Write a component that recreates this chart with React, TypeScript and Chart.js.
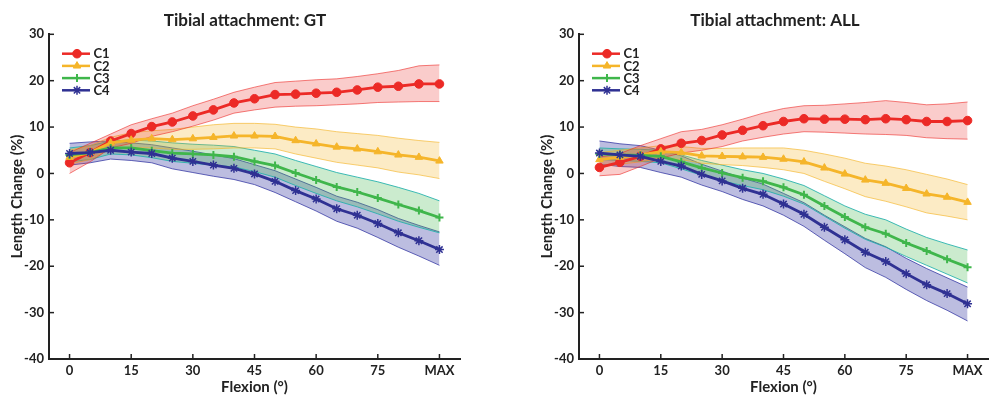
import React, { useEffect, useRef } from 'react';
import { Chart, registerables } from 'chart.js';
import { drawPoint } from 'chart.js/helpers';

Chart.register(...registerables);

// ---------- data ----------
const flexion = [0, 5, 10, 15, 20, 25, 30, 35, 40, 45, 50, 55, 60, 65, 70, 75, 80, 85, 90];
const xTickValues = [0, 15, 30, 45, 60, 75, 90];
const xTickLabels = ['0', '15', '30', '45', '60', '75', 'MAX'];
const yTickValues = [-40, -30, -20, -10, 0, 10, 20, 30];
const seriesNames = ['C1', 'C2', 'C3', 'C4'];
const panelTitles = ['Tibial attachment: GT', 'Tibial attachment: ALL'];

// Panel GT
const gtC1 = [2.3, 4.5, 7.0, 8.6, 10.1, 11.1, 12.4, 13.7, 15.2, 16.1, 17.0, 17.1, 17.3, 17.5, 18.0, 18.6, 18.8, 19.3, 19.3];
const gtC1Upper = [4.5, 6.5, 8.5, 10.5, 11.8, 13.0, 14.6, 16.0, 17.5, 18.6, 19.6, 19.9, 20.2, 20.4, 20.9, 21.5, 22.2, 23.2, 23.4];
const gtC1Lower = [0.0, 2.5, 5.5, 6.5, 8.0, 9.0, 10.2, 11.5, 13.0, 13.7, 14.3, 14.5, 14.6, 14.8, 15.0, 15.3, 15.4, 15.5, 15.5];
const gtC2 = [3.5, 4.5, 6.6, 7.2, 7.5, 7.3, 7.5, 7.8, 8.1, 8.1, 8.0, 7.1, 6.4, 5.7, 5.3, 4.7, 4.0, 3.5, 2.7];
const gtC2Upper = [5.0, 6.0, 7.8, 8.8, 9.2, 9.5, 10.0, 10.5, 10.8, 10.8, 10.6, 10.0, 9.6, 9.0, 8.6, 8.2, 7.6, 7.1, 6.7];
const gtC2Lower = [2.0, 3.0, 5.4, 5.6, 5.5, 5.2, 5.2, 5.3, 5.5, 5.5, 5.3, 4.2, 3.3, 2.4, 1.8, 1.2, 0.3, -0.3, -1.1];
const gtC3 = [4.0, 4.5, 5.5, 5.5, 4.9, 4.4, 4.2, 4.0, 3.6, 2.6, 1.7, 0.1, -1.4, -2.9, -4.0, -5.3, -6.7, -8.0, -9.5];
const gtC3Upper = [5.5, 6.0, 7.0, 7.2, 7.0, 6.6, 6.3, 6.1, 5.8, 5.0, 4.2, 2.8, 1.5, 0.2, -0.8, -1.8, -3.0, -4.3, -5.9];
const gtC3Lower = [2.5, 3.0, 4.2, 4.0, 3.4, 2.6, 2.2, 1.8, 1.4, 0.4, -0.8, -2.6, -4.3, -5.9, -7.2, -8.7, -10.3, -11.6, -12.8];
const gtC4 = [4.3, 4.5, 5.0, 4.6, 4.3, 3.3, 2.6, 1.8, 1.1, -0.1, -1.7, -3.7, -5.5, -7.6, -9.0, -10.8, -12.8, -14.5, -16.4];
const gtC4Upper = [6.5, 6.8, 7.0, 6.6, 6.2, 5.5, 4.8, 4.0, 3.2, 1.9, 0.6, -1.2, -3.0, -4.9, -6.2, -7.8, -9.7, -11.2, -12.6];
const gtC4Lower = [1.8, 2.3, 3.1, 2.8, 2.3, 1.0, 0.2, -0.6, -1.3, -2.4, -4.1, -6.1, -8.1, -10.3, -11.8, -13.8, -15.9, -17.8, -19.8];

// Panel ALL
const allC1 = [1.3, 2.4, 3.7, 5.3, 6.5, 7.1, 8.3, 9.3, 10.3, 11.2, 11.8, 11.7, 11.7, 11.6, 11.8, 11.6, 11.2, 11.2, 11.4];
const allC1Upper = [3.5, 4.3, 6.0, 7.5, 9.0, 9.5, 10.5, 11.7, 13.0, 14.0, 14.6, 14.7, 15.0, 15.3, 15.7, 15.3, 14.8, 15.0, 15.4];
const allC1Lower = [-0.5, -0.2, 1.5, 3.3, 4.4, 5.0, 5.8, 7.0, 7.8, 8.5, 9.0, 8.9, 8.7, 8.5, 8.4, 8.2, 7.7, 7.5, 7.4];
const allC2 = [3.0, 3.5, 4.0, 4.7, 4.5, 3.8, 3.7, 3.6, 3.5, 3.1, 2.5, 1.2, -0.1, -1.4, -2.1, -3.2, -4.4, -5.1, -6.2];
const allC2Upper = [4.5, 5.0, 5.5, 6.0, 5.8, 5.4, 5.4, 5.5, 5.5, 5.5, 5.0, 4.2, 3.3, 2.2, 1.6, 0.8, -0.2, -1.2, -2.4];
const allC2Lower = [1.5, 2.0, 2.5, 3.3, 3.0, 2.2, 1.9, 1.7, 1.3, 0.8, 0.0, -1.7, -3.3, -5.0, -6.0, -7.2, -8.5, -9.2, -10.0];
const allC3 = [4.2, 4.0, 3.9, 3.7, 2.5, 1.2, 0.1, -0.9, -1.7, -3.0, -4.6, -7.0, -9.4, -11.6, -13.0, -15.0, -16.7, -18.5, -20.2];
const allC3Upper = [5.5, 5.3, 5.2, 5.0, 4.0, 2.8, 1.8, 0.8, 0.0, -1.2, -2.6, -4.8, -7.0, -8.8, -10.0, -12.0, -13.8, -15.2, -16.5];
const allC3Lower = [3.0, 2.8, 2.6, 2.3, 1.0, -0.4, -1.6, -2.6, -3.5, -4.9, -6.6, -9.2, -11.8, -14.2, -15.9, -17.9, -19.8, -21.7, -23.6];
const allC4 = [4.4, 4.0, 3.7, 2.6, 1.6, -0.2, -1.6, -3.2, -4.5, -6.6, -8.8, -11.6, -14.3, -17.0, -19.0, -21.6, -24.0, -25.9, -28.1];
const allC4Upper = [7.0, 6.4, 6.0, 5.0, 3.8, 2.0, 0.5, -1.0, -2.3, -4.3, -6.3, -9.0, -11.5, -14.0, -15.8, -18.3, -20.5, -22.5, -24.5];
const allC4Lower = [2.0, 1.5, 1.3, 0.2, -0.8, -2.5, -3.9, -5.6, -7.0, -9.0, -11.4, -14.4, -17.3, -20.3, -22.4, -25.0, -27.4, -29.5, -31.8];

// ---------- styles ----------
const lineColors = ['#ec2a26', '#f5b52a', '#3fb64b', '#2f3193'];
const bandFills = ['rgba(236,42,38,0.24)', 'rgba(245,181,42,0.27)', 'rgba(63,182,75,0.27)', 'rgba(47,49,160,0.32)'];
const bandEdges = ['rgba(236,42,38,0.6)', 'rgba(245,181,42,0.65)', 'rgba(30,175,170,0.85)', 'rgba(47,49,160,0.75)'];
const markerStyles = ['circle', 'triangle', 'cross', 'star'];
const markerRadius = [4.3, 4.3, 4, 4.5];
const markerBorder = [1, 1, 2, 1.5];
const FONT = 'Lato, "Open Sans", sans-serif';
const INK = '#222';

type PanelData = { title: string; means: number[][]; uppers: number[][]; lowers: number[][] };

const panels: PanelData[] = [
  { title: panelTitles[0], means: [gtC1, gtC2, gtC3, gtC4], uppers: [gtC1Upper, gtC2Upper, gtC3Upper, gtC4Upper], lowers: [gtC1Lower, gtC2Lower, gtC3Lower, gtC4Lower] },
  { title: panelTitles[1], means: [allC1, allC2, allC3, allC4], uppers: [allC1Upper, allC2Upper, allC3Upper, allC4Upper], lowers: [allC1Lower, allC2Lower, allC3Lower, allC4Lower] },
];

const pts = (vals: number[]) => vals.map((v, i) => ({ x: flexion[i], y: v }));

const ticksInward = {
  id: 'ticksInward',
  afterDraw(chart: any) {
    const { ctx, chartArea, scales } = chart;
    ctx.save();
    ctx.strokeStyle = INK;
    ctx.lineWidth = 1.5;
    xTickValues.forEach((v) => {
      const px = scales.x.getPixelForValue(v);
      ctx.beginPath();
      ctx.moveTo(px, chartArea.bottom);
      ctx.lineTo(px, chartArea.bottom - 5);
      ctx.stroke();
    });
    yTickValues.forEach((v) => {
      const py = scales.y.getPixelForValue(v);
      ctx.beginPath();
      ctx.moveTo(chartArea.left, py);
      ctx.lineTo(chartArea.left + 5, py);
      ctx.stroke();
    });
    ctx.restore();
  },
};

const panelTitle = {
  id: 'panelTitle',
  afterDraw(chart: any, _args: any, opts: any) {
    const { ctx } = chart;
    ctx.save();
    ctx.fillStyle = INK;
    ctx.font = `bold 17px ${FONT}`;
    ctx.textAlign = 'center';
    ctx.textBaseline = 'middle';
    ctx.fillText(opts.text, opts.cx, 20.5);
    ctx.restore();
  },
};

const lineLegend = {
  id: 'lineLegend',
  afterDraw(chart: any) {
    const { ctx, chartArea } = chart;
    ctx.save();
    seriesNames.forEach((name, i) => {
      const y = chartArea.top + 19.4 + i * 12.2;
      const x0 = chartArea.left + 13;
      const x1 = chartArea.left + 41;
      ctx.strokeStyle = lineColors[i];
      ctx.lineWidth = 2.5;
      ctx.beginPath();
      ctx.moveTo(x0, y);
      ctx.lineTo(x1, y);
      ctx.stroke();
      ctx.fillStyle = lineColors[i];
      ctx.strokeStyle = lineColors[i];
      ctx.lineWidth = markerBorder[i];
      drawPoint(ctx, { pointStyle: markerStyles[i], radius: markerRadius[i], rotation: 0, borderWidth: markerBorder[i] } as any, chartArea.left + 28, y);
      ctx.fillStyle = INK;
      ctx.font = `bold 13px ${FONT}`;
      ctx.textBaseline = 'middle';
      ctx.textAlign = 'left';
      ctx.fillText(name, chartArea.left + 44.5, y + 0.5);
    });
    ctx.restore();
  },
};

function buildDatasets(p: PanelData) {
  const ds: any[] = [];
  for (let i = 0; i < 4; i++) {
    const lowerIdx = ds.length;
    ds.push({
      data: pts(p.lowers[i]),
      borderColor: bandEdges[i],
      borderWidth: 1,
      pointRadius: 0,
      fill: false,
      order: 10,
    });
    ds.push({
      data: pts(p.uppers[i]),
      borderColor: bandEdges[i],
      borderWidth: 1,
      pointRadius: 0,
      backgroundColor: bandFills[i],
      fill: lowerIdx,
      order: 10,
    });
  }
  for (let i = 0; i < 4; i++) {
    ds.push({
      label: seriesNames[i],
      data: pts(p.means[i]),
      borderColor: lineColors[i],
      backgroundColor: lineColors[i],
      borderWidth: 2.8,
      pointStyle: markerStyles[i],
      pointRadius: markerRadius[i],
      pointBorderWidth: markerBorder[i],
      pointBorderColor: lineColors[i],
      pointBackgroundColor: lineColors[i],
      fill: false,
      order: 9 - i,
    });
  }
  return ds;
}

function Panel({ panel, width, padRight }: { panel: PanelData; width: number; padRight: number }) {
  const ref = useRef<HTMLCanvasElement>(null);
  useEffect(() => {
    if (!ref.current) return;
    const chart = new Chart(ref.current, {
      type: 'line',
      data: { datasets: buildDatasets(panel) },
      options: {
        animation: false,
        responsive: false,
        devicePixelRatio: 1,
        layout: { padding: { left: 0, right: padRight, top: 34.3, bottom: 0 } },
        elements: { line: { tension: 0 } },
        plugins: {
          legend: { display: false },
          tooltip: { enabled: false },
          title: { display: false },
          panelTitle: { text: panel.title, cx: 245 },
        },
        scales: {
          x: {
            type: 'linear',
            min: -5,
            max: 95,
            grid: { display: false, drawTicks: false },
            border: { display: true, color: INK, width: 2 },
            afterBuildTicks: (scale: any) => {
              scale.ticks = xTickValues.map((v) => ({ value: v }));
            },
            afterFit: (scale: any) => {
              scale.height = 38;
            },
            ticks: {
              color: INK,
              padding: 4,
              maxRotation: 0,
              font: { family: FONT, size: 13, weight: 'bold' },
              callback: (v: any) => {
                const idx = xTickValues.indexOf(Number(v));
                return idx >= 0 ? xTickLabels[idx] : '';
              },
            },
            title: {
              display: true,
              text: 'Flexion (°)',
              color: INK,
              font: { family: FONT, size: 15, weight: 'bold' },
              padding: { top: 0, bottom: 1 },
            },
          },
          y: {
            type: 'linear',
            min: -40,
            max: 30,
            grid: { display: false, drawTicks: false },
            border: { display: true, color: INK, width: 2 },
            afterBuildTicks: (scale: any) => {
              scale.ticks = yTickValues.map((v) => ({ value: v }));
            },
            afterFit: (scale: any) => {
              scale.width = 49;
            },
            ticks: {
              color: INK,
              padding: 5,
              font: { family: FONT, size: 13, weight: 'bold' },
            },
            title: {
              display: true,
              text: 'Length Change (%)',
              color: INK,
              font: { family: FONT, size: 15, weight: 'bold' },
              padding: { top: 8, bottom: 0 },
            },
          },
        },
      } as any,
      plugins: [ticksInward, lineLegend, panelTitle],
    });
    return () => chart.destroy();
  }, [panel, width, padRight]);
  return <canvas ref={ref} width={width} height={397} style={{ display: 'block', width, height: 397 }} />;
}

export default function App() {
  return (
    <div style={{ position: 'fixed', left: 0, top: 0, width: 989, height: 397, overflow: 'hidden', background: '#fff' }}>
      <div style={{ position: 'absolute', left: 0, top: 0 }}>
        <Panel panel={panels[0]} width={489} padRight={29} />
      </div>
      <div style={{ position: 'absolute', left: 530, top: 0 }}>
        <Panel panel={panels[1]} width={490} padRight={32} />
      </div>
    </div>
  );
}
